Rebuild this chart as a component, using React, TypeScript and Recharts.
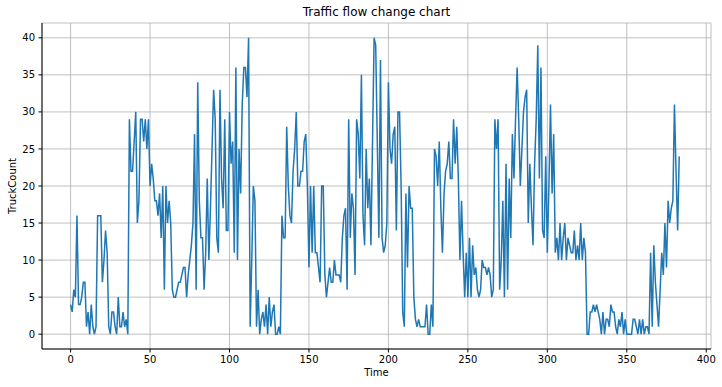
import React from 'react';
import { LineChart, Line, XAxis, YAxis, CartesianGrid } from 'recharts';

// truck counts per time step (t = 0..383)
const truckCount: number[] = [
  4, 3, 6, 5, 16, 4, 4, 5, 7, 7, 1, 3, 0, 4, 1, 0, 1, 16, 16, 16,
  7, 10, 14, 11, 1, 0, 3, 3, 1, 0, 5, 1, 1, 3, 1, 2, 0, 29, 22, 22,
  26, 30, 15, 18, 29, 29, 26, 29, 25, 29, 20, 23, 21, 18, 18, 16, 19, 13, 20, 6,
  20, 15, 18, 15, 6, 5, 5, 6, 7, 7, 8, 9, 9, 5, 8, 10, 12, 15, 27, 6,
  34, 18, 13, 13, 6, 11, 21, 10, 17, 25, 33, 29, 13, 11, 33, 21, 17, 29, 14, 14,
  30, 23, 26, 11, 36, 10, 25, 19, 31, 36, 36, 32, 40, 1, 10, 20, 18, 1, 6, 0,
  2, 3, 1, 4, 0, 5, 1, 3, 4, 0, 0, 1, 0, 16, 13, 13, 28, 20, 16, 15,
  22, 25, 30, 20, 20, 22, 22, 26, 27, 20, 9, 20, 11, 20, 11, 11, 9, 7, 20, 20,
  8, 5, 7, 9, 7, 7, 10, 8, 8, 8, 7, 13, 16, 17, 6, 29, 13, 19, 17, 8,
  29, 27, 21, 35, 16, 12, 25, 17, 21, 12, 26, 40, 39, 26, 13, 37, 13, 11, 12, 15,
  34, 25, 23, 27, 28, 14, 30, 30, 20, 3, 1, 19, 9, 20, 17, 17, 5, 2, 1, 2,
  1, 1, 1, 1, 4, 0, 0, 4, 1, 25, 24, 20, 26, 17, 11, 19, 22, 23, 26, 21,
  21, 29, 23, 28, 21, 10, 18, 11, 5, 11, 5, 13, 5, 12, 8, 9, 6, 5, 6, 10,
  9, 9, 8, 9, 8, 5, 6, 29, 25, 29, 6, 10, 18, 5, 23, 6, 21, 13, 27, 21,
  29, 36, 29, 20, 25, 30, 32, 33, 15, 23, 17, 12, 23, 29, 39, 21, 36, 14, 13, 24,
  11, 20, 31, 19, 27, 11, 13, 10, 15, 10, 13, 15, 10, 13, 12, 11, 11, 14, 10, 12,
  10, 15, 10, 13, 11, 0, 0, 3, 3, 4, 3, 4, 3, 2, 0, 3, 0, 2, 2, 1,
  4, 3, 3, 1, 0, 2, 1, 3, 0, 2, 0, 0, 0, 0, 2, 2, 1, 0, 2, 0,
  2, 0, 1, 1, 0, 11, 1, 12, 7, 4, 1, 6, 11, 8, 15, 9, 18, 15, 17, 18,
  31, 22, 14, 24,
];

const xTicks = [0, 50, 100, 150, 200, 250, 300, 350, 400];
const yTicks = [0, 5, 10, 15, 20, 25, 30, 35, 40];

const data = truckCount.map((v, i) => ({ time: i, count: v }));

const font = '"DejaVu Sans", sans-serif';
const tickStyle = { fontSize: 10, fill: '#000', fontFamily: font };

const App: React.FC = () => {
  return (
    <div style={{ position: 'absolute', left: 0, top: 0, width: 722, height: 387, background: '#fff', fontFamily: font }}>
      <div style={{ position: 'absolute', left: 42, width: 669, top: 5, textAlign: 'center', fontSize: 12, color: '#000' }}>
        Traffic flow change chart
      </div>
      <div style={{ position: 'absolute', left: 42, width: 669, top: 367, textAlign: 'center', fontSize: 10, color: '#000' }}>
        Time
      </div>
      <div
        style={{
          position: 'absolute', left: 12, top: 186, fontSize: 10, color: '#000',
          transform: 'translate(-50%, -50%) rotate(-90deg)', whiteSpace: 'nowrap',
        }}
      >
        TruckCount
      </div>
      <LineChart width={722} height={387} data={data} margin={{ top: 23, right: 11, left: 0, bottom: 0 }}>
        <CartesianGrid stroke="#b0b0b0" strokeWidth={0.8} />
        <XAxis
          dataKey="time"
          type="number"
          domain={[-18, 403]}
          allowDataOverflow
          ticks={xTicks}
          height={38}
          tick={tickStyle}
          tickSize={3.5}
          tickMargin={3.5}
          tickLine={{ stroke: '#000' }}
          axisLine={{ stroke: '#000' }}
        />
        <XAxis xAxisId="top" orientation="top" type="number" domain={[-18, 403]} height={0} tick={false} tickLine={false} axisLine={{ stroke: '#000' }} />
        <YAxis
          type="number"
          domain={[-2, 42]}
          allowDataOverflow
          ticks={yTicks}
          width={42}
          tick={tickStyle}
          tickSize={3.5}
          tickMargin={3.5}
          tickLine={{ stroke: '#000' }}
          axisLine={{ stroke: '#000' }}
        />
        <YAxis yAxisId="right" orientation="right" domain={[-2, 42]} width={0} tick={false} tickLine={false} axisLine={{ stroke: '#000' }} />
        <Line
          type="linear"
          dataKey="count"
          stroke="#1f77b4"
          strokeWidth={1.5}
          dot={false}
          isAnimationActive={false}
        />
      </LineChart>
    </div>
  );
};

export default App;
